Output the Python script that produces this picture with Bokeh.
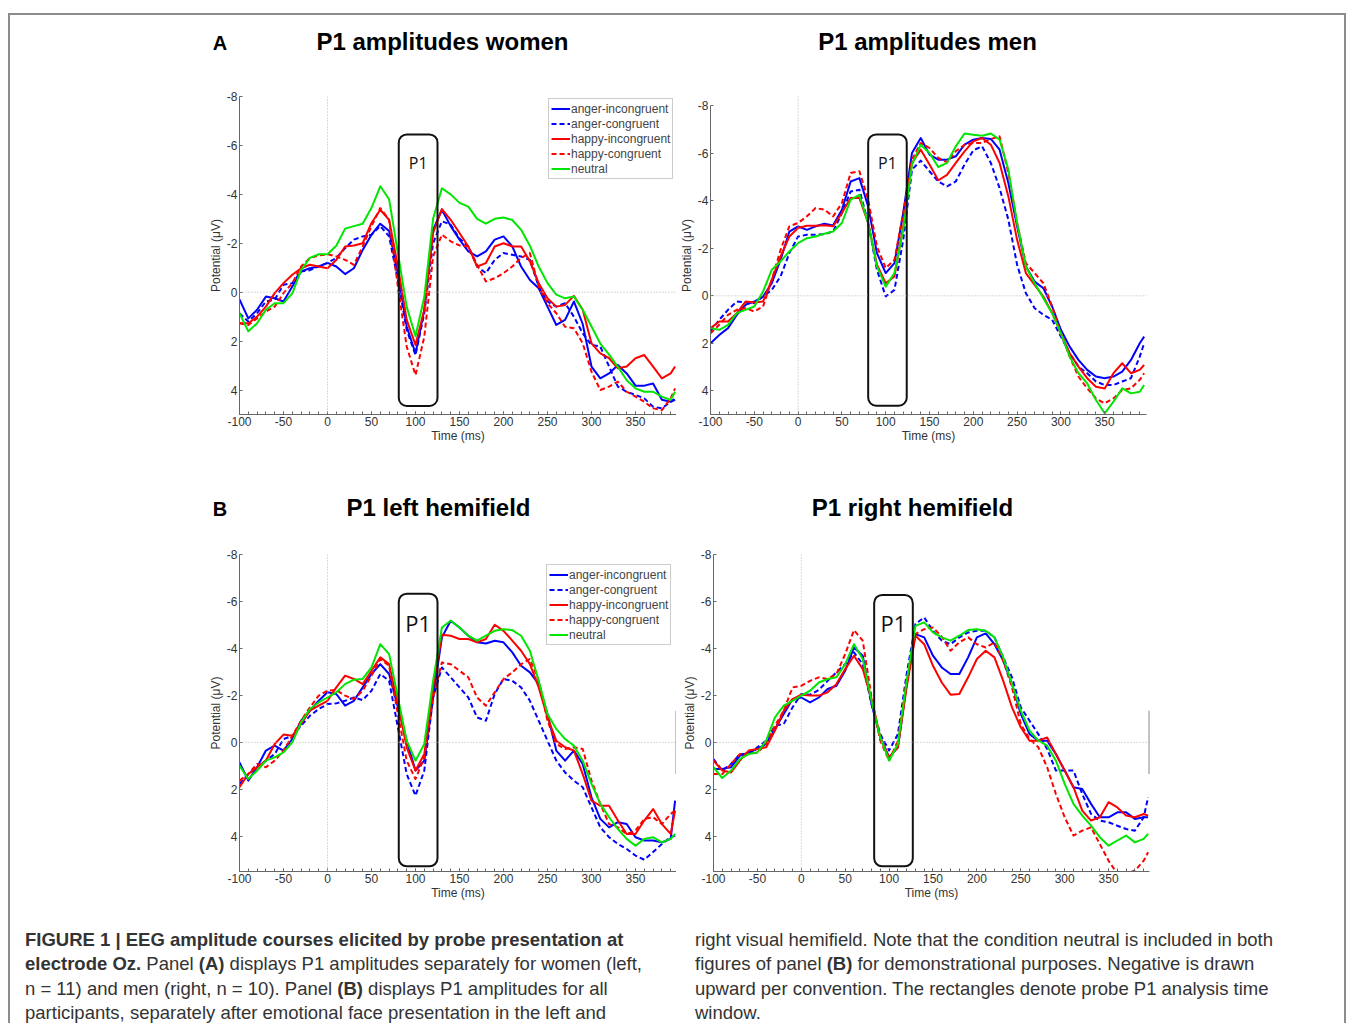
from bokeh.plotting import figure
from bokeh.layouts import column, row
from bokeh.models import (Range1d, FixedTicker, Span, Legend, LegendItem, Div,
                          PrintfTickFormatter)
from bokeh.core.properties import value
from bokeh.embed import file_html
from bokeh.resources import INLINE

# ---------------- data ----------------
time_ms = [-100, -90, -80, -70, -60, -50, -40, -30, -20, -10,
           0, 10, 20, 30, 40, 50, 60, 70, 80, 90,
           100, 110, 120, 130, 140, 150, 160, 170, 180, 190,
           200, 210, 220, 230, 240, 250, 260, 270, 280, 290,
           300, 310, 320, 330, 340, 350, 360, 370, 380, 390, 395]

series_labels = ["anger-incongruent", "anger-congruent", "happy-incongruent",
                 "happy-congruent", "neutral"]
x_tick_labels = [-100, -50, 0, 50, 100, 150, 200, 250, 300, 350]
y_tick_labels = [-8, -6, -4, -2, 0, 2, 4]
panel_titles = ["P1 amplitudes women", "P1 amplitudes men",
                "P1 left hemifield", "P1 right hemifield"]

# Panel A, women
women_anger_incongruent = [0.3, 1.07, 0.72, 0.18, 0.25, 0.38, -0.23, -0.85, -0.98, -1.05,
                           -1.2, -1.05, -0.74, -0.98, -1.73, -2.35, -2.8, -2.5, -0.78, 1.4,
                           2.5, 0.72, -2.55, -3.37, -2.7, -2.15, -1.67, -1.46, -1.67, -2.15,
                           -2.28, -1.87, -1.05, -0.5, -0.16, 0.59, 1.34, 1.13, 0.38, 1.3,
                           3.04, 3.52, 3.32, 2.98, 3.32, 3.82, 3.82, 3.73, 4.4, 4.48, 4.4]
women_anger_congruent = [0.86, 1.2, 0.86, 0.38, 0.3, -0.3, -0.37, -0.85, -0.9, -1.05,
                         -1.2, -1.4, -1.8, -2.15, -2.28, -2.35, -2.7, -2.28, -0.5, 1.54,
                         2.57, 0.86, -2.0, -2.9, -2.76, -2.2, -1.87, -1.05, -0.78, -1.32,
                         -1.6, -1.53, -1.46, -1.32, -0.23, 0.38, 0.59, 0.45, 1.0, 1.68,
                         2.16, 2.22, 3.04, 3.86, 4.07, 4.2, 4.34, 4.68, 4.75, 4.48, 4.34]
women_happy_incongruent = [1.27, 1.27, 1.0, 0.59, 0.04, -0.37, -0.71, -0.98, -1.12, -1.05,
                           -0.98, -1.32, -1.87, -1.91, -2.0, -2.83, -3.37, -2.96, -1.05, 1.13,
                           2.16, 0.72, -2.42, -3.4, -2.96, -2.42, -1.87, -1.05, -1.19, -1.87,
                           -2.0, -1.87, -1.87, -1.26, -0.37, 0.25, 0.59, 0.52, 0.15, 0.72,
                           2.09, 2.5, 2.7, 3.11, 3.04, 2.7, 2.57, 3.04, 3.52, 3.32, 3.04]
women_happy_congruent = [1.27, 1.34, 1.07, 0.79, 0.59, 0.04, -0.37, -1.05, -1.4, -1.5,
                         -1.55, -1.46, -1.32, -1.12, -1.87, -2.7, -3.44, -2.96, -0.23, 2.22,
                         3.39, 1.82, -1.46, -2.35, -2.08, -1.91, -1.87, -1.12, -0.44, -0.57,
                         -0.78, -1.05, -1.4, -1.6, -0.23, 0.45, 0.86, 1.41, 1.47, 2.09,
                         3.25, 4.0, 3.86, 3.66, 4.07, 4.27, 4.48, 4.75, 4.82, 4.34, 3.93]
women_neutral = [0.86, 1.6, 1.27, 0.72, 0.45, 0.45, 0.05, -0.9, -1.4, -1.55,
                 -1.55, -1.9, -2.6, -2.7, -2.8, -3.45, -4.33, -3.8, -1.6, 0.6,
                 1.8, 0.2, -3.0, -4.25, -4.0, -3.65, -3.5, -3.0, -2.8, -3.0,
                 -3.05, -2.95, -2.55, -1.9, -1.05, -0.37, 0.1, 0.25, 0.18, 0.72,
                 1.4, 2.1, 2.55, 3.05, 3.6, 3.93, 4.07, 4.07, 4.27, 4.4, 4.07]

# Panel A, men
men_anger_incongruent = [2.0, 1.65, 1.36, 0.8, 0.38, 0.24, 0.03, -0.53, -1.52, -2.71,
                         -2.93, -2.78, -2.93, -3.04, -2.97, -3.63, -4.82, -4.96, -3.77, -1.8,
                         -0.96, -1.38, -3.49, -6.02, -6.65, -5.95, -5.74, -5.74, -5.88, -6.37,
                         -6.58, -6.65, -6.61, -6.16, -4.75, -2.93, -1.24, -0.6, -0.32, 0.45,
                         1.43, 2.14, 2.7, 3.12, 3.4, 3.47, 3.4, 3.19, 2.7, 2.0, 1.72]
men_anger_congruent = [1.5, 1.01, 0.59, 0.24, 0.28, 0.31, 0.03, -0.25, -0.82, -1.8,
                       -2.5, -2.57, -2.57, -2.6, -2.71, -3.49, -4.4, -4.47, -3.07, -1.1,
                       0.03, -0.25, -2.36, -5.32, -5.7, -5.25, -4.82, -4.61, -4.82, -5.53,
                       -6.13, -6.3, -5.6, -4.54, -3.21, -1.31, -0.11, 0.52, 0.8, 1.01,
                       1.72, 2.42, 2.98, 3.26, 3.61, 3.76, 3.76, 3.61, 3.47, 2.56, 2.0]
men_happy_incongruent = [1.36, 1.08, 1.08, 0.73, 0.24, 0.28, 0.24, -0.68, -1.66, -2.5,
                         -2.86, -2.95, -2.95, -2.97, -2.93, -3.49, -4.12, -4.12, -3.07, -1.31,
                         -0.53, -0.82, -2.93, -5.6, -6.16, -5.53, -4.87, -5.1, -5.6, -6.09,
                         -6.51, -6.65, -6.37, -5.6, -4.19, -2.36, -0.96, -0.46, 0.03, 0.73,
                         1.58, 2.42, 2.98, 3.47, 3.83, 3.9, 3.26, 2.84, 3.26, 3.12, 2.91]
men_happy_congruent = [1.58, 1.22, 0.8, 0.59, 0.52, 0.66, 0.45, -0.68, -1.94, -2.93,
                       -3.07, -3.35, -3.7, -3.63, -3.35, -3.91, -5.18, -5.25, -4.05, -2.08,
                       -1.17, -1.52, -3.49, -5.74, -6.44, -6.23, -5.81, -5.63, -6.09, -6.37,
                       -6.44, -6.44, -6.61, -6.72, -5.18, -3.07, -1.38, -0.96, -0.53, 0.45,
                       1.58, 2.56, 3.4, 3.9, 4.32, 4.53, 4.32, 3.97, 3.9, 3.54, 3.26]
men_neutral = [1.36, 1.43, 1.22, 0.73, 0.59, 0.45, -0.18, -1.1, -1.45, -1.87,
               -2.22, -2.43, -2.5, -2.62, -2.71, -3.07, -4.05, -4.26, -3.07, -1.24,
               -0.39, -0.96, -2.78, -5.53, -6.37, -6.02, -5.43, -5.6, -6.3, -6.84,
               -6.79, -6.75, -6.84, -6.58, -5.32, -3.07, -1.24, -0.53, 0.1, 0.73,
               1.58, 2.56, 3.26, 3.69, 4.39, 4.95, 4.46, 3.9, 4.11, 4.04, 3.76]

# Panel B, left hemifield
left_anger_incongruent = [0.85, 1.63, 1.06, 0.35, 0.14, 0.35, -0.14, -0.92, -1.35, -1.77,
                          -2.13, -2.06, -1.56, -1.77, -2.34, -2.91, -3.33, -2.91, -1.49, -0.07,
                          1.2, 0.78, -1.91, -4.47, -5.18, -4.89, -4.54, -4.26, -4.21, -4.33,
                          -4.26, -3.83, -3.26, -2.98, -2.48, -1.21, 0.35, 0.78, 0.35, 0.92,
                          2.34, 3.26, 3.62, 3.4, 3.48, 4.04, 4.18, 4.18, 4.26, 4.11, 2.48]
left_anger_congruent = [1.77, 1.35, 1.06, 0.78, 0.5, -0.14, -0.28, -0.71, -1.13, -1.42,
                        -1.63, -1.66, -1.77, -1.91, -1.8, -2.2, -2.91, -2.62, -0.64, 1.35,
                        2.27, 1.2, -1.91, -3.19, -2.77, -2.34, -1.91, -1.06, -0.92, -2.06,
                        -2.7, -2.62, -2.34, -1.77, -0.92, -0.07, 0.78, 1.28, 1.63, 1.91,
                        2.77, 3.62, 4.04, 4.33, 4.54, 4.82, 5.0, 4.67, 4.33, 4.04, 3.97]
left_happy_incongruent = [1.91, 1.35, 1.06, 0.78, 0.07, -0.33, -0.28, -0.78, -1.35, -1.56,
                          -1.77, -2.34, -2.84, -2.7, -2.48, -3.05, -3.62, -3.33, -1.63, 0.21,
                          1.2, 0.5, -2.34, -4.58, -4.54, -4.4, -4.4, -4.26, -4.4, -5.01,
                          -4.75, -4.33, -3.9, -3.33, -2.34, -1.06, -0.07, 0.21, 0.35, 1.35,
                          2.48, 2.7, 2.7, 3.33, 3.9, 3.9, 3.33, 2.84, 3.48, 3.9, 2.91]
left_happy_congruent = [1.63, 1.35, 0.92, 1.06, 0.78, 0.35, -0.28, -0.92, -1.49, -1.99,
                        -2.2, -2.23, -1.99, -1.84, -2.2, -2.84, -3.55, -3.26, -1.21, 0.78,
                        1.56, 0.64, -1.91, -3.4, -3.33, -3.05, -2.77, -1.91, -1.56, -2.13,
                        -2.7, -2.98, -3.33, -3.55, -2.62, -0.92, 0.07, 0.28, 0.21, 0.28,
                        1.63, 2.62, 3.48, 3.62, 3.9, 3.76, 3.26, 3.19, 3.48, 3.05, 2.91]
left_neutral = [0.99, 1.56, 1.2, 0.78, 0.64, 0.43, 0.0, -0.85, -1.42, -1.7,
                -1.91, -2.13, -2.48, -2.67, -2.7, -3.19, -4.18, -3.76, -1.91, -0.07,
                0.78, 0.07, -2.62, -4.89, -5.18, -4.89, -4.54, -4.33, -4.54, -4.75,
                -4.82, -4.78, -4.54, -3.9, -2.62, -1.21, -0.57, -0.14, 0.14, 0.78,
                1.77, 2.62, 3.19, 3.69, 4.11, 4.4, 4.11, 4.04, 4.26, 4.11, 3.9]

# Panel B, right hemifield
right_anger_incongruent = [1.13, 1.13, 1.06, 0.57, 0.43, 0.28, 0.07, -0.57, -1.21, -1.84,
                           -1.91, -1.7, -1.91, -2.27, -2.41, -3.05, -4.04, -3.69, -1.63, -0.21,
                           0.64, 0.21, -2.48, -4.61, -4.47, -3.69, -3.19, -2.91, -2.91, -3.62,
                           -4.47, -4.64, -4.18, -3.48, -2.48, -1.21, -0.35, -0.07, -0.07, 0.5,
                           1.2, 1.91, 1.99, 2.62, 3.19, 3.19, 2.98, 2.98, 3.26, 3.19, 3.19]
right_anger_congruent = [0.71, 1.2, 0.92, 0.5, 0.5, 0.21, -0.07, -0.71, -0.78, -1.49,
                         -2.06, -2.03, -2.23, -2.62, -2.98, -3.33, -3.83, -3.33, -1.63, -0.35,
                         0.35, -0.35, -2.91, -5.04, -5.32, -4.75, -4.33, -4.18, -4.47, -4.68,
                         -4.75, -4.75, -4.47, -3.62, -2.77, -1.49, -0.92, -0.35, 0.28, 1.2,
                         1.2, 1.2, 2.2, 3.05, 3.33, 3.4, 3.55, 3.69, 3.76, 3.19, 2.34]
right_happy_incongruent = [0.78, 1.2, 1.28, 0.78, 0.35, 0.28, 0.21, -0.5, -1.35, -1.84,
                           -2.03, -1.99, -1.99, -2.13, -2.48, -3.12, -3.69, -3.12, -1.84, -0.21,
                           0.64, 0.21, -2.34, -4.54, -4.18, -3.26, -2.55, -2.03, -2.06, -2.77,
                           -3.55, -3.9, -3.62, -2.62, -1.49, -0.64, -0.07, -0.07, -0.21, 0.5,
                           1.2, 1.91, 2.91, 3.33, 3.19, 2.55, 2.77, 3.12, 3.19, 3.05, 3.12]
right_happy_congruent = [1.35, 1.35, 0.92, 0.5, 0.5, 0.43, 0.07, -0.71, -1.35, -2.34,
                         -2.41, -2.62, -2.77, -2.7, -2.91, -3.76, -4.78, -4.33, -1.91, -0.07,
                         0.78, -0.07, -2.62, -4.61, -4.82, -4.89, -4.5, -3.9, -4.26, -4.47,
                         -4.18, -4.04, -4.26, -3.48, -2.34, -0.78, -0.14, 0.21, 1.06, 2.2,
                         3.19, 3.97, 3.76, 3.62, 4.33, 5.04, 5.6, 5.6, 5.46, 5.04, 4.68]
right_neutral = [1.06, 1.52, 1.2, 0.71, 0.5, 0.43, -0.07, -1.06, -1.56, -1.77,
                 -1.99, -2.2, -2.55, -2.7, -2.77, -3.33, -4.18, -3.55, -1.77, -0.21,
                 0.78, 0.07, -2.62, -4.96, -5.11, -4.68, -4.47, -4.33, -4.54, -4.78,
                 -4.82, -4.75, -4.47, -3.62, -2.48, -1.35, -0.5, -0.07, 0.14, 0.78,
                 1.77, 2.62, 3.12, 3.55, 4.04, 4.4, 4.18, 3.97, 4.26, 4.11, 3.9]

# P1 analysis window (ms) per panel
p1_windows = [(81, 125), (80, 124), (81, 125), (83, 127)]

caption_left = [
    "<b>FIGURE 1 | EEG amplitude courses elicited by probe presentation at</b>",
    "<b>electrode Oz.</b> Panel <b>(A)</b> displays P1 amplitudes separately for women (left,",
    "n = 11) and men (right, n = 10). Panel <b>(B)</b> displays P1 amplitudes for all",
    "participants, separately after emotional face presentation in the left and",
]
caption_right = [
    "right visual hemifield. Note that the condition neutral is included in both",
    "figures of panel <b>(B)</b> for demonstrational purposes. Negative is drawn",
    "upward per convention. The rectangles denote probe P1 analysis time",
    "window.",
]

# ---------------- styles ----------------
FONT = "Liberation Sans"
W = 1334
colors = ["#0000ff", "#0000ff", "#ff0000", "#ff0000", "#00e600"]
dashes = ["solid", "5 3", "solid", "5 3", "solid"]

panel_series = [
    [women_anger_incongruent, women_anger_congruent, women_happy_incongruent, women_happy_congruent, women_neutral],
    [men_anger_incongruent, men_anger_congruent, men_happy_incongruent, men_happy_congruent, men_neutral],
    [left_anger_incongruent, left_anger_congruent, left_happy_incongruent, left_happy_congruent, left_neutral],
    [right_anger_incongruent, right_anger_congruent, right_happy_incongruent, right_happy_congruent, right_neutral],
]

panel_cfg = [
    dict(width=666, height=387, mbl=229, mbr=0, mbt=28, mbb=41, x_end=396.6,
         y_low=5.0, y_top=-8.0, box=(-6.45, 4.65), p1_y=-5.27, p1_size="16px",
         legend=(309, 235), edge=False),
    dict(width=668, height=387, mbl=33, mbr=198, mbt=28, mbb=41, x_end=397.7,
         y_low=5.0, y_top=-8.4, box=(-6.8, 4.63), p1_y=-5.6, p1_size="16px",
         legend=None, edge=False),
    dict(width=666, height=380, mbl=229, mbr=0, mbt=24, mbb=39, x_end=396.6,
         y_low=5.5, y_top=-8.0, box=(-6.33, 5.28), p1_y=-5.1, p1_size="22px",
         legend=(307, 226), edge=True),
    dict(width=668, height=380, mbl=37, mbr=195, mbt=24, mbb=39, x_end=396.6,
         y_low=5.5, y_top=-8.0, box=(-6.28, 5.28), p1_y=-5.1, p1_size="22px",
         legend=None, edge=True),
]


def make_panel(series, cfg, window):
    p = figure(width=cfg["width"], height=cfg["height"],
               x_range=Range1d(-100, cfg["x_end"]),
               y_range=Range1d(cfg["y_low"], cfg["y_top"]),
               output_backend="svg", toolbar_location=None,
               min_border_left=cfg["mbl"], min_border_right=cfg["mbr"],
               min_border_top=cfg["mbt"], min_border_bottom=cfg["mbb"],
               x_axis_label="Time (ms)", y_axis_label="Potential (\u03bcV)")
    p.grid.visible = False
    p.outline_line_color = None
    p.add_layout(Span(location=0, dimension="height", line_color="#b4b4b4",
                      line_dash="1 2", line_width=1))
    p.add_layout(Span(location=0, dimension="width", line_color="#b4b4b4",
                      line_dash="1 2", line_width=1))
    items = []
    for lab, ys, col, dash in zip(series_labels, series, colors, dashes):
        r = p.line(time_ms, ys, line_color=col, line_dash=dash, line_width=2,
                   line_join="round")
        items.append(LegendItem(label=lab, renderers=[r]))
    lft, rgt = window
    top, bot = cfg["box"]
    p.quad(left=[lft], right=[rgt], top=[top], bottom=[bot], fill_color=None,
           line_color="#111111", line_width=2, border_radius=8)
    p.text(x=[(lft + rgt) / 2], y=[cfg["p1_y"]], text=["P1"],
           text_font=value("Open Sans"), text_font_size=cfg["p1_size"],
           text_align="center", text_baseline="middle", text_color="#111111")
    if cfg["edge"]:
        p.segment(x0=[cfg["x_end"]], x1=[cfg["x_end"]], y0=[-1.35], y1=[1.35],
                  line_color="#888888", line_width=2)
    if cfg["legend"] is not None:
        leg = Legend(items=items, location=cfg["legend"], margin=0, padding=2,
                     spacing=0, label_text_font_size="12px", label_text_font=FONT,
                     label_height=15, glyph_height=15, glyph_width=19,
                     label_standoff=1, border_line_color="#9a9a9a",
                     border_line_width=1, background_fill_alpha=1.0)
        p.add_layout(leg)
    for ax in (p.xaxis[0], p.yaxis[0]):
        ax.axis_line_color = "#666666"
        ax.major_tick_line_color = "#666666"
        ax.minor_tick_line_color = "#666666"
        ax.major_tick_in = 3
        ax.major_tick_out = 0
        ax.minor_tick_in = 3
        ax.minor_tick_out = 0
        ax.major_label_text_font = FONT
        ax.major_label_text_font_size = "12px"
        ax.major_label_text_color = "#333333"
        ax.major_label_standoff = 2
        ax.formatter = PrintfTickFormatter(format="%d")
        ax.axis_label_text_font = FONT
        ax.axis_label_text_font_size = "12px"
        ax.axis_label_text_font_style = "normal"
        ax.axis_label_text_color = "#333333"
    p.xaxis[0].ticker = FixedTicker(ticks=x_tick_labels, minor_ticks=list(range(-100, 400, 10)))
    p.xaxis[0].axis_label_standoff = 0
    p.yaxis[0].ticker = FixedTicker(ticks=y_tick_labels)
    p.yaxis[0].axis_label_standoff = 1
    p.yaxis[0].bounds = (-8, cfg["y_low"])
    return p


def make_header(h, letter, letter_xy, titles, title_xs, title_y):
    f = figure(width=W, height=h, x_range=Range1d(0, W), y_range=Range1d(h, 0),
               output_backend="svg", toolbar_location=None, min_border=0,
               x_axis_location=None, y_axis_location=None)
    f.grid.visible = False
    f.outline_line_color = None
    f.text(x=[letter_xy[0]], y=[letter_xy[1]], text=[letter], text_font=value(FONT),
           text_font_style="bold", text_font_size="20px", text_align="center",
           text_baseline="middle", text_color="#000000")
    f.text(x=title_xs, y=[title_y] * len(titles), text=titles, text_font=value(FONT),
           text_font_style="bold", text_font_size="24px", text_align="center",
           text_baseline="middle", text_color="#000000")
    return f


panels = [make_panel(s, c, w) for s, c, w in zip(panel_series, panel_cfg, p1_windows)]

head_a = make_header(53, "A", (209.5, 27), panel_titles[:2], [432, 917], 26)
head_b = make_header(75, "B", (209.5, 53), panel_titles[2:], [428, 902], 52)

cap_style = "position:absolute;top:18px;white-space:nowrap;"
caption_html = (
    '<div style="position:relative;width:%dpx;height:113px;overflow:hidden;'
    "font-family:'Liberation Sans',Arial,sans-serif;font-size:18.5px;line-height:24.4px;"
    'color:#333333;">' % W
    + '<div style="%sleft:15px;">' % cap_style + "<br>".join(caption_left) + "</div>"
    + '<div style="%sleft:685px;">' % cap_style + "<br>".join(caption_right) + "</div>"
    + "</div>"
)
caption = Div(text=caption_html, width=W, height=113, margin=0)

border = "2px solid #8c8c8c"
layout = column(
    head_a,
    row(panels[0], panels[1]),
    head_b,
    row(panels[2], panels[3]),
    caption,
    margin=(13, 0, 0, 8),
    styles={"border-top": border, "border-left": border, "border-right": border},
)

open("out.html", "w").write(file_html(layout, INLINE, title="EEG amplitude courses"))
